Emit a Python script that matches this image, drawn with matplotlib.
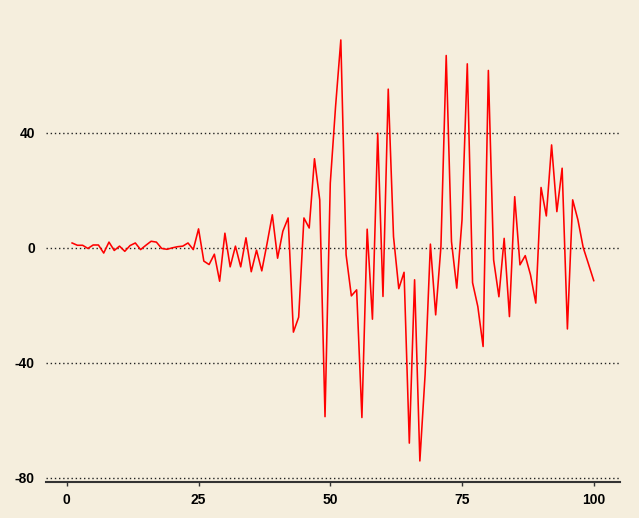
import matplotlib
matplotlib.use("Agg")
import matplotlib.pyplot as plt
import numpy as np

# series (x = 1..100)
x = np.arange(1, 101)
y = [1.6, 0.8, 0.8, -0.3, 0.9, 0.9, -1.9, 1.9, -1.0, 0.5,
     -1.3, 0.7, 1.6, -0.7, 0.8, 2.2, 1.9, -0.3, -0.6, -0.1,
     0.3, 0.5, 1.6, -0.7, 6.5, -4.7, -5.9, -2.3, -11.7, 5.0,
     -6.7, 0.5, -6.7, 3.4, -8.4, -0.9, -8.1, 1.4, 11.4, -3.7,
     5.7, 10.3, -29.4, -24.2, 10.3, 6.8, 30.9, 16.6, -58.8, 22.4,
     49.0, 72.2, -2.5, -16.8, -14.7, -59.1, 6.4, -24.9, 39.8, -17.0,
     55.1, 3.8, -14.3, -8.6, -68.0, -11.2, -74.2, -44.0, 1.2, -23.4,
     0.4, 66.8, 2.1, -14.1, 9.6, 63.9, -12.2, -20.5, -34.4, 61.6,
     -4.3, -17.1, 3.2, -24.0, 17.7, -6.0, -2.8, -9.5, -19.3, 20.9,
     11.0, 35.7, 12.5, 27.6, -28.3, 16.6, 9.6, 0.0, -5.7, -11.5]
x_ticks = [0, 25, 50, 75, 100]
y_ticks = [-80, -40, 0, 40]

bg = "#F5EEDD"
plt.rcParams['font.family'] = ['Liberation Sans', 'DejaVu Sans']
plt.rcParams['axes.unicode_minus'] = False

fig = plt.figure(figsize=(6.39, 5.18), dpi=100, facecolor=bg)
ax = fig.add_axes([0.072, 0.0695, 0.898, 0.894], facecolor=bg)

ax.plot(x, y, color="#FF0000", linewidth=1.15, zorder=3)

# ggplot-style 5% expansion
span_x = x.max() - x.min()
ax.set_xlim(x.min() - 0.05 * span_x, x.max() + 0.05 * span_x)
span_y = max(y) - min(y)
ax.set_ylim(min(y) - 0.05 * span_y, max(y) + 0.05 * span_y)

ax.set_xticks(x_ticks)
ax.set_yticks(y_ticks)
ax.grid(axis="y", color="#222222", linestyle=(0, (1, 2)), linewidth=1.0)
ax.grid(axis="x", visible=False)
ax.set_axisbelow(True)

for side in ["top", "right", "left"]:
    ax.spines[side].set_visible(False)
ax.spines["bottom"].set_color("#333333")
ax.spines["bottom"].set_linewidth(1.5)

ax.tick_params(axis="x", length=3, width=1, color="#333333", pad=5,
               labelsize=10, labelcolor="black")
ax.tick_params(axis="y", length=0, pad=8, labelsize=10, labelcolor="black")
for lab in ax.get_xticklabels() + ax.get_yticklabels():
    lab.set_fontweight("bold")

fig.savefig("out.png", dpi=100, facecolor=bg)
